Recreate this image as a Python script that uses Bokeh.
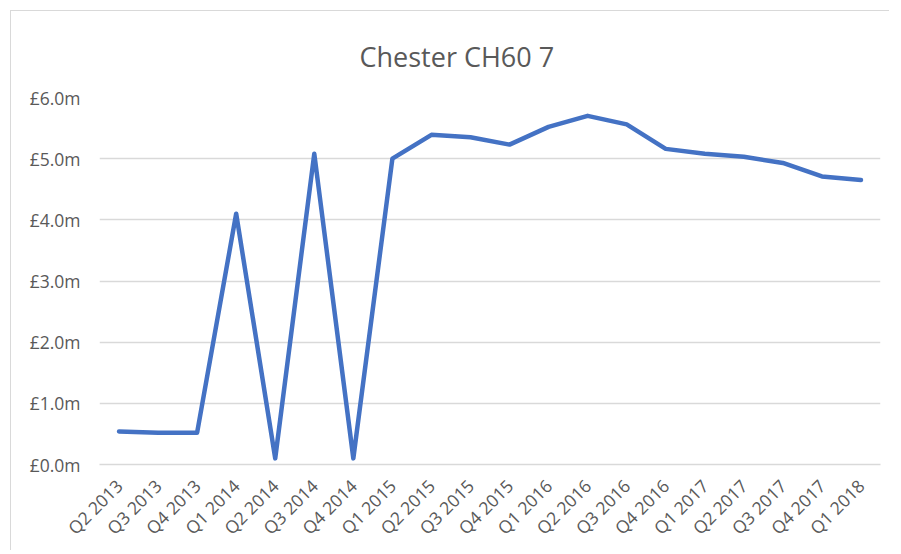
import math
from bokeh.plotting import figure
from bokeh.models import FactorRange, Range1d, FixedTicker, CustomJSTickFormatter
from bokeh.embed import file_html
from bokeh.resources import INLINE

title_text = "Chester CH60 7"
quarters = ["Q2 2013", "Q3 2013", "Q4 2013", "Q1 2014", "Q2 2014", "Q3 2014",
            "Q4 2014", "Q1 2015", "Q2 2015", "Q3 2015", "Q4 2015", "Q1 2016",
            "Q2 2016", "Q3 2016", "Q4 2016", "Q1 2017", "Q2 2017", "Q3 2017",
            "Q4 2017", "Q1 2018"]
values_m = [0.54, 0.52, 0.52, 4.10, 0.10, 5.08, 0.10, 5.00, 5.39, 5.35,
            5.23, 5.52, 5.70, 5.56, 5.16, 5.08, 5.03, 4.93, 4.71, 4.65]
y_ticks = [0, 1, 2, 3, 4, 5, 6]

p = figure(width=879, height=540, output_backend="svg", toolbar_location=None,
           x_range=FactorRange(*quarters, range_padding=0),
           y_range=Range1d(0, 6),
           min_border_left=88, min_border_right=10, min_border_top=86,
           min_border_bottom=87)
p.styles = {"margin-left": "10px", "margin-top": "10px",
            "border-left": "1px solid #D9D9D9", "border-top": "1px solid #D9D9D9"}

p.title.text = title_text
p.title.align = "left"
p.title.offset = 260
p.title.text_font = "Open Sans"
p.title.text_font_style = "normal"
p.title.text_font_size = "27px"
p.title.text_color = "#595959"
p.title.standoff = 45

p.line(quarters, values_m, line_color="#4472C4", line_width=4.5,
       line_join="round", line_cap="round")

p.outline_line_color = None
p.xgrid.grid_line_color = None
p.ygrid.grid_line_color = "#D9D9D9"
p.ygrid.grid_line_width = 1.5

p.yaxis.ticker = FixedTicker(ticks=y_ticks)
p.yaxis.formatter = CustomJSTickFormatter(code="return '\u00a3' + tick.toFixed(1) + 'm';")
p.yaxis.axis_line_color = None
p.yaxis.major_tick_line_color = None
p.yaxis.minor_tick_line_color = None
p.yaxis.major_label_standoff = 13

p.xaxis.axis_line_color = "#D9D9D9"
p.xaxis.axis_line_width = 1.5
p.xaxis.major_tick_line_color = None
p.xaxis.minor_tick_line_color = None
p.xaxis.major_label_orientation = math.pi / 4
p.xaxis.major_label_standoff = 12

for ax in (p.xaxis, p.yaxis):
    ax.major_label_text_font = "Open Sans"
    ax.major_label_text_font_size = "17.5px"
    ax.major_label_text_color = "#595959"

open("out.html", "w").write(file_html(p, INLINE))
